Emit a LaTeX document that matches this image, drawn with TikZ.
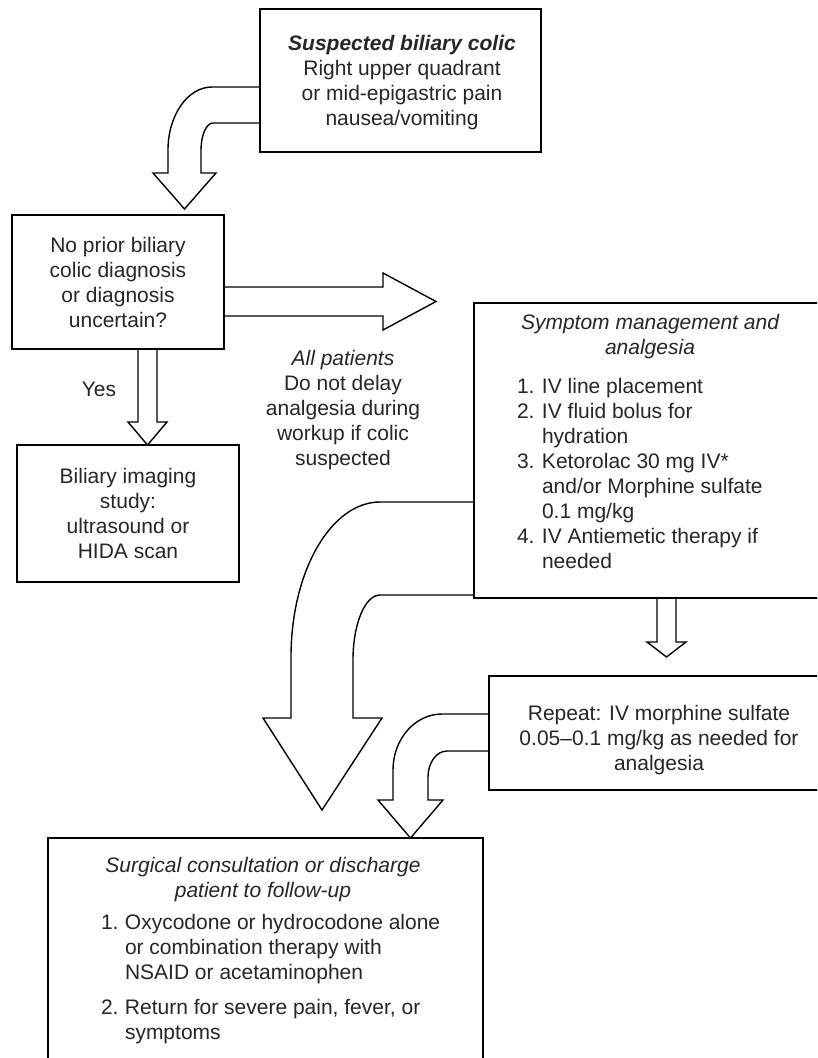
\documentclass[tikz,border=0pt]{standalone}
\usepackage{fontspec}
\setmainfont{Liberation Sans}
\usetikzlibrary{backgrounds}
\newcommand{\itemnum}[1]{\makebox[25pt][l]{#1}}
\newcommand{\itemnumb}[1]{\makebox[24pt][l]{#1}}
\begin{document}
\begin{tikzpicture}[x=1pt,y=-1pt,
  box/.style={draw, line width=1.6pt, rectangle, inner sep=0pt, outer sep=0pt},
  txt/.style={inner sep=0pt, outer sep=0pt, font=\fontsize{21}{25}\selectfont, text=black!85},
  blk/.style={draw, fill=white, line width=1.4pt, line join=miter}]
\useasboundingbox (0,0) rectangle (817,1058);
\clip (0,0) rectangle (817,1058);

% boxes
\node[box, minimum width=281pt, minimum height=143pt] (b1) at (400.5,80.5) {};
\node[box, minimum width=212pt, minimum height=134pt] (b2) at (118,282) {};
\node[box, minimum width=222pt, minimum height=137pt] (b3) at (128,513.5) {};
\node[box, minimum width=352pt, minimum height=295pt] (b4) at (650,450.5) {};
\node[box, minimum width=339pt, minimum height=114pt] (b5) at (658.5,733) {};
\node[box, minimum width=435pt, minimum height=262pt] (b6) at (265.5,969) {};

% texts
\node[txt, anchor=north] (t1) at (402,33) {\begin{tabular}{@{}c@{}}
  {\bfseries\itshape Suspected biliary colic}\\
  Right upper quadrant\\ or mid-epigastric pain\\ nausea/vomiting\end{tabular}};
\node[txt, anchor=north] (t2) at (118,235) {\begin{tabular}{@{}c@{}}
  No prior biliary\\ colic diagnosis\\ or diagnosis\\ uncertain?\end{tabular}};
\node[txt, anchor=north] (t3) at (128,466) {\begin{tabular}{@{}c@{}}
  Biliary imaging\\ study:\\ ultrasound or\\ HIDA scan\end{tabular}};
\node[txt, anchor=north] (yes) at (99,379) {\begin{tabular}{@{}c@{}}Yes\end{tabular}};
\node[txt, anchor=north] (allp) at (343,348) {\begin{tabular}{@{}c@{}}
  {\itshape All patients}\\ Do not delay\\ analgesia during\\ workup if colic\\ suspected\end{tabular}};
\node[txt, anchor=north] (t4h) at (650,312) {\begin{tabular}{@{}c@{}}
  \itshape Symptom management and\\ \itshape analgesia\end{tabular}};
\node[txt, anchor=north west] (t4l) at (517,376) {\begin{tabular}{@{}l@{}}
  \itemnum{1.}IV line placement\\
  \itemnum{2.}IV fluid bolus for\\
  \itemnum{}hydration\\
  \itemnum{3.}Ketorolac 30 mg IV*\\
  \itemnum{}and/or Morphine sulfate\\
  \itemnum{}0.1 mg/kg\\
  \itemnum{4.}IV Antiemetic therapy if\\
  \itemnum{}needed\end{tabular}};
\node[txt, anchor=north] (t5) at (659,703) {\begin{tabular}{@{}c@{}}
  Repeat: IV morphine sulfate\\ 0.05–0.1 mg/kg as needed for\\ analgesia\end{tabular}};
\node[txt, anchor=north] (t6h) at (263,855) {\begin{tabular}{@{}c@{}}
  \itshape Surgical consultation or discharge\\ \itshape patient to follow-up\end{tabular}};
\node[txt, anchor=north west] (t6l) at (101,912) {\begin{tabular}{@{}l@{}}
  \itemnumb{1.}Oxycodone or hydrocodone alone\\
  \itemnumb{}or combination therapy with\\
  \itemnumb{}NSAID or acetaminophen\\[10pt]
  \itemnumb{2.}Return for severe pain, fever, or\\
  \itemnumb{}symptoms\end{tabular}};

% block arrows, drawn beneath the boxes
\begin{pgfonlayer}{background}
\fill[white] (0,0) rectangle (817,1058);
% suspected colic -> prior diagnosis
\draw[blk] (b1.west |- 0,87) -- (212,87)
  .. controls (187.7,87) and (168,115.2) .. (168,150) -- (168,173)
  -- (153,173) -- (184.5,209) -- (216,173) -- (201,173) -- (201,150)
  .. controls (201,135.1) and (206.4,123) .. (213,123) -- (b1.west |- 0,123);
% all patients -> symptom management
\draw[blk] (b2.east |- 0,287) -- (383,287) -- (383,273) -- (436,301.5)
  -- (383,330) -- (383,316) -- (b2.east |- 0,316);
% yes -> imaging
\draw[blk] (b2.south -| 138,0) -- (138,422) -- (128,422) -- (b3.north -| 147.5,0)
  -- (167,422) -- (157,422) -- (b2.south -| 157,0);
% symptom management -> surgical consultation
\draw[blk] (b4.west |- 0,502) -- (380,502)
  .. controls (331,502) and (291,571.4) .. (291,657) -- (291,718)
  -- (263,718) -- (322,810) -- (382,718) -- (353,718) -- (353,660)
  .. controls (353,624) and (365,595) .. (380,595) -- (b4.west |- 0,595);
% symptom management -> repeat dose
\draw[blk] (b4.south -| 657,0) -- (657,642) -- (647,642) -- (666.5,657)
  -- (686,642) -- (676,642) -- (b4.south -| 676,0);
% repeat dose -> surgical consultation
\draw[blk] (b5.west |- 0,714) -- (442,714)
  .. controls (415,714) and (393,739) .. (393,770) -- (393,800)
  -- (378,800) -- (b6.north -| 410.5,0) -- (443,800) -- (428,800) -- (428,777)
  .. controls (428,762.6) and (436.5,751) .. (447,751) -- (b5.west |- 0,751);
\end{pgfonlayer}
\end{tikzpicture}
\end{document}
